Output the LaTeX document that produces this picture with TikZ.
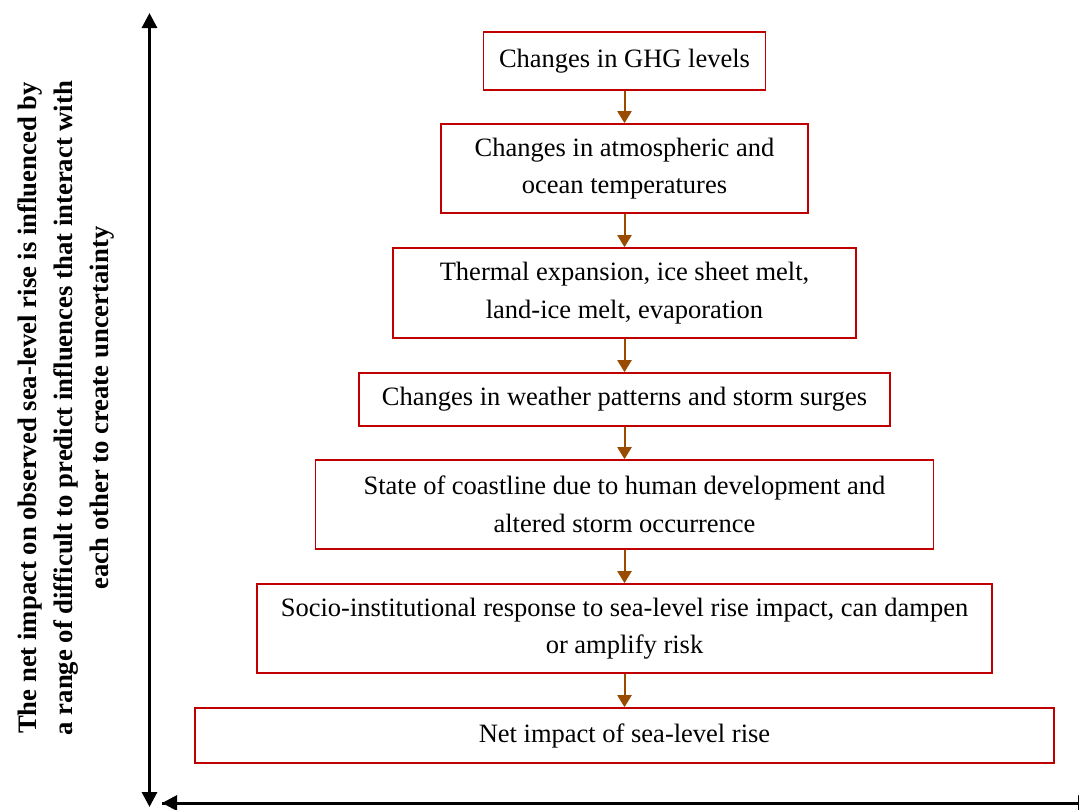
\documentclass[tikz,border=0pt]{standalone}
\usepackage{fontspec}
\setmainfont{Liberation Serif}
\usetikzlibrary{arrows.meta}
\definecolor{boxred}{RGB}{192,0,0}
\definecolor{flowbrown}{RGB}{153,76,0}
\begin{document}
\begin{tikzpicture}[x=1pt,y=-1pt,
  stage/.style={draw=boxred, line width=1.6pt, fill=white, align=center,
    inner sep=0pt, font=\fontsize{26.5}{37.5}\selectfont},
  flow/.style={draw=flowbrown, line width=2pt,
    -{Triangle[width=14pt,length=12pt]}},
  axis/.style={draw=black, line width=3pt,
    -{Triangle[width=15pt,length=15pt]}}]
\useasboundingbox (0,0) rectangle (1079,809);
\begin{scope}
\clip (0,0) rectangle (1079,809);

% causal chain of stages
\node[stage, minimum width=282pt, minimum height=58pt] (s1) at (624.5,61)
  {Changes in GHG levels};
\node[stage, minimum width=367pt, minimum height=89pt] (s2) at (624.5,168.5)
  {Changes in atmospheric and\\ocean temperatures};
\node[stage, minimum width=463pt, minimum height=90pt] (s3) at (624.5,293)
  {Thermal expansion, ice sheet melt,\\land-ice melt, evaporation};
\node[stage, minimum width=531pt, minimum height=53pt] (s4) at (624.5,399.5)
  {Changes in weather patterns and storm surges};
\node[stage, minimum width=618pt, minimum height=89pt] (s5) at (624.5,504.5)
  {State of coastline due to human development and\\altered storm occurrence};
\node[stage, minimum width=735pt, minimum height=89pt] (s6) at (624.5,628.5)
  {Socio-institutional response to sea-level rise impact, can dampen\\or amplify risk};
\node[stage, minimum width=859pt, minimum height=55pt] (s7) at (624.5,735.5)
  {Net impact of sea-level rise};

\foreach \a/\b in {s1/s2,s2/s3,s3/s4,s4/s5,s5/s6,s6/s7}
  \draw[flow] (\a.south) -- (\b.north);

% axes
\coordinate (vtop) at (149.5,13);
\coordinate (vmid) at (149.5,400);
\coordinate (vbot) at (149.5,807);
\coordinate (hleft) at (162,803);
\coordinate (hright) at (1093,803);
\draw[axis] (vmid) -- (vtop);
\draw[axis] (vmid) -- (vbot);
\draw[axis] (hright) -- (hleft);
\draw[axis] (hleft) -- (hright);

% axis caption
\node[rotate=90, align=center, font=\bfseries\fontsize{26.7}{36}\selectfont]
  (caption) at (66,408)
  {The net impact on observed sea-level rise is influenced by\\
   a range of difficult to predict influences that interact with\\
   each other to create uncertainty};
\end{scope}
\end{tikzpicture}
\end{document}
